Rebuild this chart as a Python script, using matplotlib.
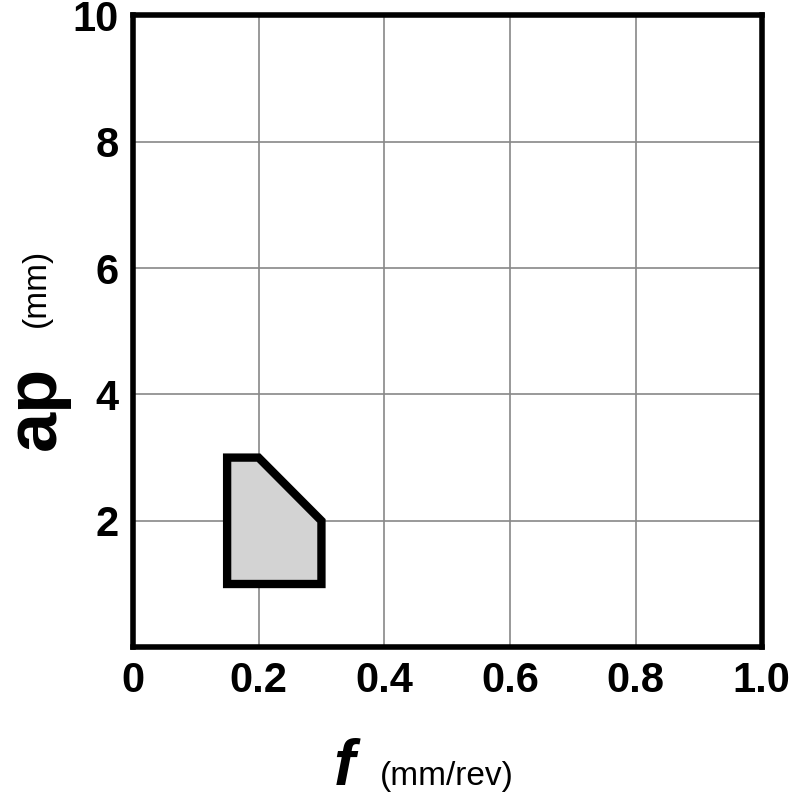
import matplotlib
matplotlib.use("Agg")
import matplotlib.pyplot as plt
from matplotlib.patches import Polygon

f_vals = [0.15, 0.15, 0.2, 0.3, 0.3]
ap_vals = [1, 3, 3, 2, 1]
xticks = [0, 0.2, 0.4, 0.6, 0.8, 1.0]
xticklabels = ["0", "0.2", "0.4", "0.6", "0.8", "1.0"]
yticks = [2, 4, 6, 8, 10]

fig = plt.figure(figsize=(8, 8), dpi=100)
ax = fig.add_axes([0.166, 0.191, 0.786, 0.79])
ax.set_xlim(0, 1)
ax.set_ylim(0, 10)
ax.set_xticks(xticks)
ax.set_xticklabels(xticklabels)
ax.set_yticks(yticks)
ax.grid(True, color="#888888", linewidth=1.2)
ax.tick_params(length=0, labelsize=30, pad=10)
for lab in ax.get_xticklabels() + ax.get_yticklabels():
    lab.set_fontweight("bold")
    lab.set_family("Liberation Sans")
for s in ax.spines.values():
    s.set_linewidth(4)
ax.add_patch(Polygon(list(zip(f_vals, ap_vals)), closed=True, facecolor="#d3d3d3",
                     edgecolor="black", linewidth=6, joinstyle="miter", zorder=3))

fig.text(0.43, 0.04, "f", fontsize=46, fontweight="bold", style="italic",
         family="Liberation Sans", ha="center", va="center")
fig.text(0.475, 0.03, "(mm/rev)", fontsize=24, family="Liberation Sans", ha="left", va="center")
fig.text(0.045, 0.49, "ap", fontsize=52, fontweight="bold",
         family="Liberation Sans", ha="center", va="center", rotation=90)
fig.text(0.045, 0.64, "(mm)", fontsize=24, family="Liberation Sans", ha="center", va="center", rotation=90)

fig.savefig("out.png", dpi=100)
